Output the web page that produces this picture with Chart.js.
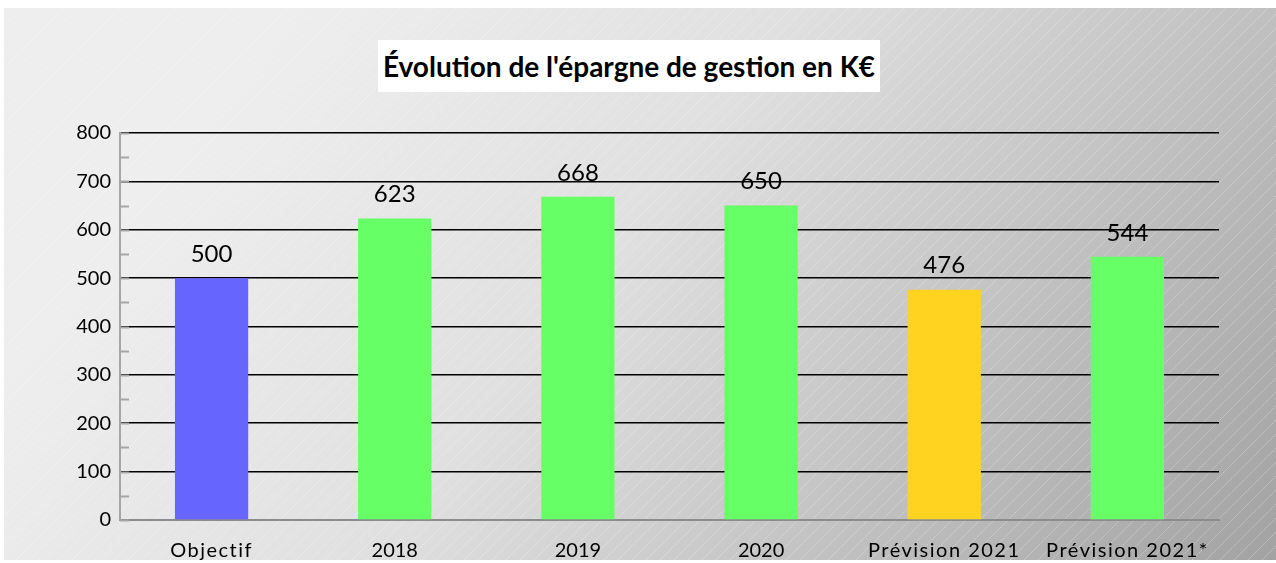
<!DOCTYPE html>
<html lang="fr">
<head>
<meta charset="utf-8">
<script src="https://cdn.jsdelivr.net/npm/chart.js@4/dist/chart.umd.min.js"></script>
<style>
  html, body { margin: 0; padding: 0; background: #fff; overflow: hidden; }
  #wrap { position: relative; width: 1276px; height: 563px; }
  #chart { display: block; }
  #title {
    position: absolute; left: 378px; top: 40px; width: 502px; height: 52px;
    background: #fff; font: bold 28px Lato, sans-serif; color: #000;
    display: flex; align-items: center; justify-content: center;
  }
</style>
</head>
<body>
<div id="wrap">
  <canvas id="chart" width="1276" height="563"></canvas>
  <div id="title">Évolution de l'épargne de gestion en K€</div>
</div>
<script>
// Data
const categories = ['Objectif', '2018', '2019', '2020', 'Prévision 2021', 'Prévision 2021*'];
const values = [500, 623, 668, 650, 476, 544];
const barColors = ['#6666ff', '#66ff66', '#66ff66', '#66ff66', '#ffd320', '#66ff66'];
const yTicks = [0, 100, 200, 300, 400, 500, 600, 700, 800];

const FONT = 'Lato, sans-serif';

// Grey gradient panel with light diagonal hatching
const backgroundPlugin = {
    id: 'panel',
    beforeDraw(chart) {
        const ctx = chart.ctx;
        const x0 = 4, y0 = 8, x1 = chart.width, y1 = chart.height - 3;
        ctx.save();
        ctx.fillStyle = '#fff';
        ctx.fillRect(0, 0, chart.width, chart.height);
        const g = ctx.createLinearGradient(300, 0, 1200, 700);
        g.addColorStop(0, '#eeeeee');
        g.addColorStop(0.35, '#e0e0e0');
        g.addColorStop(1, '#a0a0a0');
        ctx.fillStyle = g;
        ctx.fillRect(x0, y0, x1 - x0, y1 - y0);
        ctx.beginPath();
        ctx.rect(x0, y0, x1 - x0, y1 - y0);
        ctx.clip();
        ctx.strokeStyle = 'rgba(255,255,255,0.35)';
        ctx.lineWidth = 1;
        ctx.setLineDash([2, 1]);
        for (let s = -600; s < chart.width + 600; s += 14) {
            ctx.beginPath();
            ctx.moveTo(s, y1);
            ctx.lineTo(s + (y1 - y0), y0);
            ctx.stroke();
        }
        ctx.restore();
    }
};

// Small grey ticks inside the plot on the value axis
const minorTicksPlugin = {
    id: 'minorTicks',
    afterDatasetsDraw(chart) {
        const ctx = chart.ctx;
        const y = chart.scales.y;
        ctx.save();
        ctx.strokeStyle = '#a6a6a6';
        ctx.lineWidth = 2;
        for (let v = y.min; v <= y.max; v += 50) {
            const py = Math.round(y.getPixelForValue(v)) + 0.5;
            ctx.beginPath();
            ctx.moveTo(y.right, py);
            ctx.lineTo(y.right + 9, py);
            ctx.stroke();
        }
        ctx.restore();
    }
};

// Value labels above the bars
const valueLabels = {
    id: 'valueLabels',
    afterDatasetsDraw(chart) {
        const ctx = chart.ctx;
        const meta = chart.getDatasetMeta(0);
        ctx.save();
        ctx.font = '24px ' + FONT;
        ctx.fillStyle = '#000';
        ctx.textAlign = 'center';
        ctx.textBaseline = 'middle';
        meta.data.forEach((bar, i) => {
            ctx.fillText(String(values[i]), bar.x, bar.y - 24);
        });
        ctx.restore();
    }
};

// Category labels (spaced out like the original) and the white bottom edge that cuts them
const categoryLabels = {
    id: 'categoryLabels',
    afterDraw(chart) {
        const ctx = chart.ctx;
        const x = chart.scales.x;
        ctx.save();
        ctx.font = '20px ' + FONT;
        ctx.fillStyle = '#000';
        ctx.textAlign = 'center';
        ctx.textBaseline = 'alphabetic';
        categories.forEach((label, i) => {
            ctx.letterSpacing = /[a-z]/i.test(label) ? '1.5px' : '0px';
            ctx.fillText(label, x.getPixelForValue(i), x.top + 37);
        });
        ctx.letterSpacing = '0px';
        ctx.fillStyle = '#fff';
        ctx.fillRect(0, chart.height - 3, chart.width, 3);
        ctx.restore();
    }
};

new Chart(document.getElementById('chart'), {
    type: 'bar',
    data: {
        labels: categories,
        datasets: [{
            data: values,
            backgroundColor: barColors,
            borderWidth: 0,
            categoryPercentage: 1,
            barPercentage: 0.4
        }]
    },
    options: {
        responsive: false,
        animation: false,
        layout: { padding: { left: 0, right: 57, top: 133, bottom: 0 } },
        plugins: {
            legend: { display: false },
            tooltip: { enabled: false }
        },
        scales: {
            x: {
                grid: { display: false, drawTicks: false },
                border: { color: '#8c8c8c', width: 2 },
                ticks: { display: false },
                afterFit(scale) { scale.height = 43; }
            },
            y: {
                min: 0,
                max: 800,
                afterBuildTicks(scale) { scale.ticks = yTicks.map(v => ({ value: v })); },
                grid: { color: '#000', lineWidth: 1.6, drawTicks: false },
                border: { color: '#a6a6a6', width: 2 },
                ticks: {
                    color: '#000',
                    font: { family: FONT, size: 20 },
                    padding: 9
                },
                afterFit(scale) { scale.width = 120; }
            }
        }
    },
    plugins: [backgroundPlugin, valueLabels, minorTicksPlugin, categoryLabels]
});
</script>
</body>
</html>
